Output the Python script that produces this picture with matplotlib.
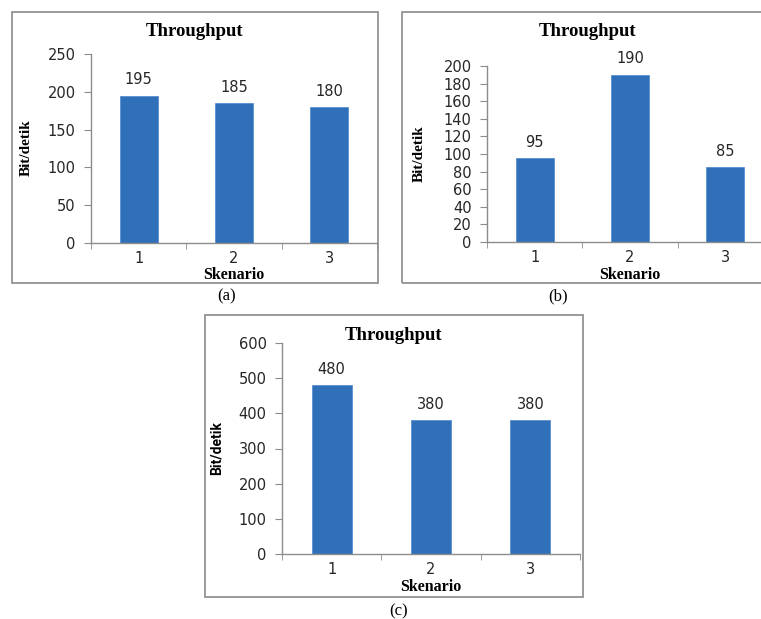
import matplotlib.pyplot as plt
from matplotlib.patches import Rectangle

W, H = 761, 619

skenario = ['1', '2', '3']
throughput_a = [195, 185, 180]
throughput_b = [95, 190, 85]
throughput_c = [480, 380, 380]

BAR = '#3070B8'
GRID = '#8c8c8c'
TXT = '#262626'
SANS = 'DejaVu Sans'
SERIF = 'Liberation Serif'

fig = plt.figure(figsize=(7.61, 6.19), dpi=100)


def fx(x):
    return x / W


def fy(y):
    return 1 - y / H


def px_rect(x0, y0, x1, y1):
    return [fx(x0), fy(y1), (x1 - x0) / W, (y1 - y0) / H]


# pixel layout of each chart: frame box, plot area, title / label spots
panels = [
    dict(values=throughput_a, ymax=250, step=50,
         box=(12, 12, 378, 283), axes=(91, 54, 377, 243),
         title=(195, 32), ylab=(26, 148), xlab=(234, 275),
         cap=(227, 296, '(a)'), ylab_sans=False),
    dict(values=throughput_b, ymax=200, step=20,
         box=(402, 12, 776, 283), axes=(487, 66, 773, 242),
         title=(588, 32), ylab=(419, 154), xlab=(630, 275),
         cap=(558, 296, '(b)'), ylab_sans=False),
    dict(values=throughput_c, ymax=600, step=100,
         box=(205, 315, 583, 597), axes=(282, 343, 580, 554),
         title=(394, 335), ylab=(217, 448), xlab=(431, 587),
         cap=(399, 611, '(c)'), ylab_sans=True),
]

for p in panels:
    x0, y0, x1, y1 = p['box']
    fig.add_artist(Rectangle((fx(x0), fy(y1)), (x1 - x0) / W, (y1 - y0) / H,
                             transform=fig.transFigure, fill=False,
                             edgecolor='#8a8a8a', linewidth=1.2))

    ax = fig.add_axes(px_rect(*p['axes']))
    pos = range(len(skenario))
    ax.bar(pos, p['values'], width=0.4, color=BAR,
           edgecolor='#5a90d0', linewidth=0.6)
    for i, v in enumerate(p['values']):
        ax.annotate(str(v), (i, v), xytext=(0, 6), textcoords='offset points',
                    ha='center', va='bottom', fontsize=10.5, family=SANS,
                    color=TXT)

    ax.set_xlim(-0.5, 2.5)
    ax.set_ylim(0, p['ymax'])
    ax.set_yticks(range(0, p['ymax'] + 1, p['step']))
    ax.set_xticks(list(pos), skenario)
    ax.set_xticks([-0.5, 0.5, 1.5, 2.5], minor=True)
    ax.tick_params(axis='x', which='major', length=0, pad=6,
                   labelsize=10.5, labelcolor=TXT)
    ax.tick_params(axis='x', which='minor', length=4, color=GRID, direction='out')
    ax.tick_params(axis='y', length=5, color=GRID, pad=6,
                   labelsize=10.5, labelcolor=TXT)
    for lab in ax.get_xticklabels() + ax.get_yticklabels():
        lab.set_family(SANS)
    for side in ('top', 'right'):
        ax.spines[side].set_visible(False)
    for side in ('left', 'bottom'):
        ax.spines[side].set_color(GRID)
        ax.spines[side].set_linewidth(1.0)

    tx, ty = p['title']
    fig.text(fx(tx), fy(ty), 'Throughput', ha='center', va='center',
             family=SERIF, fontweight='bold', fontsize=13.5, color='black')
    lx, ly = p['xlab']
    fig.text(fx(lx), fy(ly), 'Skenario', ha='center', va='center',
             family=SERIF, fontweight='bold', fontsize=11.5, color='black')
    yx, yy = p['ylab']
    if p['ylab_sans']:
        fig.text(fx(yx), fy(yy), 'Bit/detik', ha='center', va='center',
                 rotation=90, family=['Liberation Sans Narrow', 'Roboto'],
                 fontweight='bold', fontsize=10, color='black')
    else:
        fig.text(fx(yx), fy(yy), 'Bit/detik', ha='center', va='center',
                 rotation=90, family=SERIF, fontweight='bold',
                 fontsize=11, color='black')
    cx, cy, ctext = p['cap']
    fig.text(fx(cx), fy(cy), ctext, ha='center', va='center',
             family=SERIF, fontsize=12, color='black')

fig.savefig('out.png', dpi=100)
